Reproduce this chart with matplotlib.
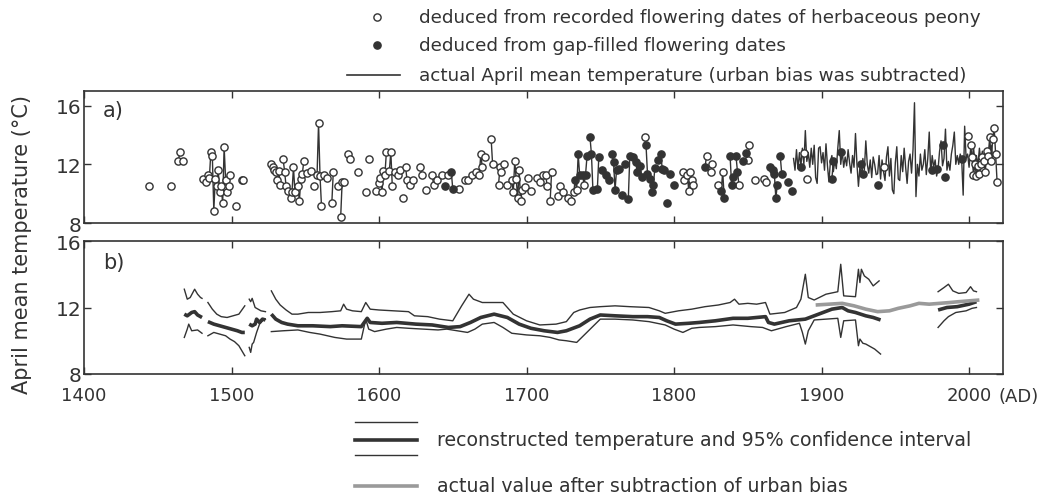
import numpy as np
import matplotlib.pyplot as plt
from matplotlib.lines import Line2D

# --- a) April temperature deduced from peony flowering dates ---------------
rec_years = [1444, 1459, 1464, 1465, 1467, 1481, 1483, 1484, 1485, 1486, 1487, 1488,
             1489, 1490, 1491, 1492, 1493, 1494, 1495, 1496, 1497, 1498, 1499, 1503,
             1507, 1508, 1527, 1528, 1529, 1530, 1531, 1532, 1533, 1535, 1536, 1537,
             1538, 1540, 1541, 1542, 1543, 1545, 1546, 1547, 1548, 1549, 1551, 1554,
             1556, 1558, 1559, 1560, 1561, 1563, 1565, 1568, 1569, 1572, 1574, 1575,
             1576, 1579, 1580, 1586, 1591, 1593, 1598, 1600, 1601, 1602, 1603, 1604,
             1605, 1607, 1608, 1609, 1611, 1613, 1614, 1616, 1618, 1619, 1621, 1623,
             1628, 1629, 1632, 1636, 1637, 1639, 1643, 1647, 1654, 1658, 1660, 1663,
             1666, 1668, 1669, 1670, 1672, 1676, 1677, 1681, 1682, 1683, 1685, 1687,
             1690, 1691, 1692, 1693, 1694, 1695, 1696, 1697, 1699, 1701, 1703, 1707,
             1709, 1711, 1713, 1714, 1716, 1717, 1721, 1723, 1725, 1728, 1730, 1732,
             1734, 1739, 1780, 1806, 1807, 1809, 1810, 1811, 1812, 1813, 1822, 1825,
             1826, 1830, 1833, 1844, 1850, 1851, 1855, 1861, 1862, 1888, 1890, 1942,
             1999, 2001, 2002, 2003, 2004, 2005, 2006, 2007, 2008, 2009, 2010, 2011,
             2012, 2013, 2014, 2015, 2016, 2017, 2018, 2019]
rec_temp = [10.5, 10.5, 12.25, 12.85, 12.25, 11.0, 10.8, 11.3, 11.1, 12.85, 12.55, 8.85,
            11.0, 10.5, 11.6, 10.1, 10.5, 9.35, 13.2, 10.95, 10.1, 10.5, 11.3, 9.15,
            10.95, 10.95, 12.05, 11.8, 11.6, 11.5, 10.95, 11.55, 10.6, 12.35, 11.5, 10.5,
            10.15, 9.7, 10.1, 11.8, 10.1, 10.5, 9.5, 11.0, 11.35, 12.2, 11.4, 11.55,
            10.5, 11.3, 14.8, 11.2, 9.15, 11.3, 11.1, 9.35, 11.5, 10.5, 8.4, 10.8,
            10.8, 12.7, 12.35, 11.5, 10.1, 12.35, 10.2, 10.75, 11.1, 10.1, 11.55, 11.3,
            12.85, 11.55, 12.85, 10.5, 11.5, 11.3, 11.6, 9.7, 11.8, 10.95, 10.6, 10.95,
            11.8, 11.3, 10.25, 11.3, 10.6, 10.95, 11.3, 11.3, 10.3, 10.95, 10.95, 11.3,
            11.5, 11.3, 12.7, 11.8, 12.5, 13.75, 12.0, 10.6, 11.8, 11.5, 12.05, 10.6,
            10.95, 10.1, 12.2, 11.0, 9.7, 11.6, 9.5, 10.25, 10.45, 11.1, 10.2, 11.1,
            10.8, 11.3, 11.3, 10.5, 9.5, 11.5, 9.85, 10.5, 10.1, 9.7, 9.5, 10.1,
            10.25, 10.6, 13.85, 11.5, 10.95, 11.25, 10.2, 11.5, 10.95, 10.6, 12.55, 11.5,
            12.05, 10.6, 11.5, 10.6, 12.3, 13.3, 10.95, 11.0, 10.8, 12.8, 11.0, 11.85,
            13.9, 13.3, 12.5, 11.3, 12.0, 11.2, 11.9, 11.35, 12.0, 12.5, 12.25, 11.5,
            12.9, 12.6, 13.85, 12.25, 13.7, 14.5, 12.7, 10.8]

gap_years = [1645, 1649, 1650, 1733, 1735, 1736, 1738, 1740, 1741, 1743, 1744, 1745,
             1748, 1749, 1751, 1754, 1756, 1758, 1759, 1760, 1761, 1763, 1765, 1767,
             1769, 1770, 1772, 1774, 1775, 1777, 1778, 1781, 1782, 1784, 1785, 1786,
             1787, 1789, 1791, 1792, 1793, 1795, 1797, 1800, 1821, 1832, 1834, 1838,
             1839, 1840, 1842, 1843, 1847, 1849, 1865, 1867, 1868, 1869, 1870, 1872,
             1873, 1877, 1880, 1886, 1907, 1908, 1913, 1927, 1928, 1938, 1975, 1978,
             1982, 1984, 1995]
gap_temp = [10.5, 11.5, 10.3, 10.95, 12.7, 11.3, 11.3, 11.3, 12.55, 13.85, 12.7, 10.25,
            10.3, 12.5, 11.6, 11.25, 10.9, 12.7, 12.15, 10.25, 11.6, 11.7, 9.9, 12.0,
            9.65, 12.55, 12.5, 12.15, 11.5, 11.9, 11.15, 13.3, 11.35, 11.0, 10.1, 10.6,
            11.75, 12.3, 12.7, 11.7, 11.6, 9.35, 11.35, 10.6, 11.8, 10.2, 9.7, 12.55,
            10.6, 11.15, 12.55, 11.5, 12.25, 12.8, 11.8, 11.6, 11.35, 9.7, 10.6, 12.55,
            11.35, 10.8, 10.2, 11.8, 11.0, 12.25, 12.85, 12.05, 11.35, 10.6, 11.6, 11.7,
            13.3, 11.15, 12.35]

obs_start = 1881
obs_temp = [12.4, 11.6, 13.0, 11.7, 12.8, 11.9, 13.1, 12.0, 14.3, 12.2,
            12.8, 11.8, 13.1, 12.0, 13.3, 11.1, 10.7, 13.1, 13.2, 12.1,
            12.8, 11.6, 13.4, 11.9, 10.8, 12.2, 12.6, 11.5, 12.3, 11.7,
            13.1, 14.3, 12.0, 12.9, 11.8, 12.5, 11.9, 13.0, 12.1, 11.4,
            12.6, 11.8, 14.1, 12.0, 10.5, 11.8, 11.2, 12.4, 11.6, 13.6,
            12.0, 11.4, 12.3, 11.1, 12.5, 12.0, 11.3, 11.35, 12.6, 11.0,
            12.3, 11.5, 10.9, 12.5, 13.2, 11.2, 12.4, 10.25, 10.0, 12.1,
            13.2, 11.0, 10.9, 12.6, 11.5, 13.1, 11.8, 10.7, 12.2, 12.7,
            11.4, 13.0, 16.2, 9.8, 12.0, 11.2, 12.7, 11.6, 12.0, 13.0,
            11.3, 12.4, 14.2, 11.4, 12.6, 11.8, 12.3, 11.2, 11.7, 12.9,
            13.6, 11.9, 12.4, 14.4, 11.6, 12.2, 11.6, 12.7, 13.3, 14.2,
            12.0, 12.6, 12.0, 12.7, 12.3, 9.9, 14.6, 12.4, 12.7, 11.8,
            13.0, 12.3, 13.2, 12.0, 12.6, 11.9, 13.1, 12.2, 12.9, 12.4,
            12.5, 12.9, 12.2, 12.6, 13.3, 12.4]

# --- b) reconstruction with 95% interval (nan = break between pieces) -------
nan = np.nan
mid_years = [1468, 1470, 1473, 1475, 1477, 1480, 1482,
             1484, 1488, 1492, 1496, 1500, 1504, 1507, 1509, 1510,
             1512, 1514, 1516, 1517, 1519, 1521, 1523, 1525,
             1527, 1530, 1534, 1538, 1545, 1555, 1567, 1575, 1588, 1590, 1592, 1594,
             1602, 1612, 1625, 1636, 1647, 1655, 1662, 1669, 1678, 1687, 1695, 1703,
             1712, 1721, 1727, 1736, 1743, 1750, 1760, 1772, 1782, 1790, 1795, 1801,
             1810, 1817, 1828, 1840, 1850, 1862, 1864, 1868, 1878, 1889, 1898, 1907,
             1914, 1918, 1923, 1930, 1935, 1940, 1960,
             1979, 1985, 1992, 2000, 2005]
mid_temp = [11.6, 11.5, 11.7, 11.75, 11.55, 11.4, nan,
            11.15, 11.0, 10.9, 10.8, 10.7, 10.6, 10.5, 10.5, nan,
            11.0, 10.9, 11.0, 11.3, 11.1, 11.3, 11.25, nan,
            11.6, 11.3, 11.1, 11.0, 10.9, 10.9, 10.85, 10.9, 10.85, 11.1, 11.35, 11.1,
            11.05, 11.1, 11.0, 10.95, 10.8, 10.85, 11.1, 11.4, 11.6, 11.4, 11.0, 10.75,
            10.6, 10.5, 10.6, 10.9, 11.3, 11.55, 11.5, 11.45, 11.45, 11.4, 11.2, 11.0,
            11.05, 11.1, 11.2, 11.35, 11.35, 11.45, 11.1, 11.0, 11.2, 11.3, 11.6, 11.9,
            12.0, 11.8, 11.7, 11.5, 11.4, 11.25, nan,
            11.85, 12.0, 12.05, 12.2, 12.35]

hi_years = [1468, 1470, 1472, 1475, 1477, 1479, 1480, 1482,
            1484, 1487, 1490, 1493, 1497, 1501, 1505, 1507, 1509, 1510,
            1512, 1513, 1514, 1516, 1518, 1520, 1523, 1525,
            1527, 1530, 1533, 1537, 1541, 1545, 1552, 1560, 1568, 1574, 1576, 1578,
            1582, 1588, 1591, 1594, 1600, 1610, 1620, 1624, 1633, 1641, 1650, 1656,
            1661, 1664, 1670, 1678, 1684, 1691, 1700, 1709, 1720, 1727, 1732, 1736,
            1743, 1750, 1760, 1770, 1783, 1790, 1794, 1803, 1812, 1821, 1830, 1838,
            1841, 1844, 1850, 1856, 1862, 1865, 1875, 1883, 1886, 1889, 1891, 1895,
            1903, 1911, 1913, 1915, 1923, 1925, 1926, 1927, 1929, 1932, 1935, 1939, 1960,
            1979, 1983, 1986, 1989, 1993, 1998, 2001, 2003, 2005]
hi_temp = [13.1, 12.5, 12.6, 13.1, 12.8, 12.6, 12.55, nan,
           12.3, 11.9, 11.6, 11.45, 11.4, 11.5, 11.6, 11.85, 12.1, nan,
           12.5, 12.35, 12.55, 12.0, 11.9, 11.8, 11.75, nan,
           13.0, 12.5, 12.15, 11.85, 11.6, 11.6, 11.7, 11.7, 11.75, 11.8, 12.2, 11.9,
           11.8, 11.75, 12.3, 11.9, 11.85, 11.8, 11.75, 11.5, 11.45, 11.3, 11.2, 12.1,
           12.8, 12.5, 12.3, 12.3, 12.3, 11.6, 11.2, 10.95, 11.0, 11.15, 11.7, 11.85,
           12.0, 12.05, 12.1, 12.05, 12.0, 11.8, 11.65, 11.8, 11.9, 12.05, 12.15, 12.3,
           12.5, 12.2, 12.25, 12.2, 12.3, 11.6, 11.7, 12.0, 12.5, 14.0, 12.6, 12.45,
           12.8, 12.95, 14.6, 12.7, 12.65, 14.3, 13.5, 14.3, 13.9, 13.7, 13.3, 13.6, nan,
           12.95, 13.2, 13.4, 13.0, 12.85, 12.9, 13.25, 13.0, 12.95]

lo_years = [1468, 1470, 1471, 1473, 1477, 1480, 1482,
            1484, 1488, 1492, 1496, 1499, 1502, 1505, 1507, 1509, 1510,
            1512, 1513, 1514, 1515, 1517, 1519, 1521, 1523, 1525,
            1527, 1535, 1545, 1553, 1560, 1570, 1578, 1588, 1591, 1593, 1597, 1605,
            1612, 1620, 1630, 1640, 1646, 1653, 1660, 1665, 1670, 1678, 1684, 1690,
            1700, 1709, 1716, 1722, 1727, 1734, 1742, 1750, 1760, 1772, 1783, 1794,
            1800, 1806, 1812, 1817, 1828, 1840, 1852, 1860, 1866, 1876, 1885, 1887,
            1889, 1891, 1895, 1903, 1911, 1913, 1915, 1923, 1925, 1926, 1928, 1930,
            1932, 1936, 1940, 1960,
            1979, 1983, 1986, 1991, 1998, 2002, 2005]
lo_temp = [10.2, 10.7, 11.0, 10.6, 10.65, 10.45, nan,
           10.3, 10.5, 10.4, 10.3, 10.1, 9.95, 9.7, 9.4, 9.1, nan,
           9.6, 9.3, 9.8, 9.9, 10.5, 11.0, 11.2, 11.3, nan,
           10.55, 10.6, 10.65, 10.5, 10.4, 10.2, 10.1, 10.1, 11.3, 10.7, 10.55, 10.7,
           10.8, 10.75, 10.7, 10.65, 10.7, 10.6, 10.5, 10.7, 11.0, 11.1, 10.8, 10.45,
           10.35, 10.3, 10.2, 10.05, 10.0, 9.9, 10.6, 11.3, 11.3, 11.25, 11.15, 10.95,
           10.7, 10.5, 10.75, 10.8, 10.85, 10.95, 10.85, 10.8, 10.6, 10.85, 11.05, 10.5,
           9.8, 10.6, 11.25, 11.3, 11.35, 10.2, 11.2, 11.25, 9.7, 10.1, 9.85, 9.8,
           9.7, 9.5, 9.2, nan,
           10.8, 11.2, 11.45, 11.7, 11.8, 11.95, 12.0]

act_years = [1896, 1905, 1914, 1922, 1930, 1938, 1946, 1952, 1960, 1966, 1973, 1980,
             1987, 1993, 2000, 2007]
act_temp = [12.15, 12.2, 12.25, 12.1, 11.9, 11.75, 11.8, 11.95, 12.1, 12.25, 12.2, 12.25,
            12.3, 12.35, 12.4, 12.45]

# ---------------------------------------------------------------------------
W, H = 1061, 502
DARK = '#333333'
GREY = '#9a9a9a'
plt.rcParams['font.family'] = 'DejaVu Sans'
plt.rcParams['text.color'] = DARK

fig = plt.figure(figsize=(W / 100, H / 100), dpi=100)


def fx(x):
    return x / W


def fy(y):
    return 1 - y / H


left, right = 84, 1003
ax_a = fig.add_axes([fx(left), fy(224), fx(right) - fx(left), fy(92) - fy(224)])
ax_b = fig.add_axes([fx(left), fy(375), fx(right) - fx(left), fy(242) - fy(375)])

for ax in (ax_a, ax_b):
    ax.set_xlim(1400, 2023)
    ax.set_xticks(range(1400, 2001, 100))
    ax.tick_params(direction='in', top=True, right=True, length=5, width=1,
                   color=DARK, labelcolor=DARK)
    ax.tick_params(axis='y', labelsize=14.5, pad=2)
    ax.tick_params(axis='x', labelsize=13, pad=9)
    for s in ax.spines.values():
        s.set_color(DARK)
        s.set_linewidth(1.2)

ax_a.set_ylim(8, 17)
ax_a.set_yticks([8, 12, 16])
ax_a.tick_params(labelbottom=False)

ax_b.set_ylim(8, 16)
ax_b.set_yticks([8, 12, 16])
ax_b.text(2020, 7.2, '(AD)', ha='left', va='top', fontsize=13, color=DARK,
          clip_on=False)

# panel a: thin line through runs of consecutive years
py = np.array(rec_years + gap_years)
pt = np.array(rec_temp + gap_temp)
order = np.argsort(py)
py, pt = py[order], pt[order]
breaks = np.where(np.diff(py) > 1)[0] + 1
for yy, tt in zip(np.split(py, breaks), np.split(pt, breaks)):
    if len(yy) > 1:
        ax_a.plot(yy, tt, color=DARK, lw=1.0, zorder=2)

obs_years = np.arange(obs_start, obs_start + len(obs_temp))
ax_a.plot(obs_years, obs_temp, color=DARK, lw=1.0, zorder=2)

ax_a.plot(rec_years, rec_temp, 'o', ms=5.2, mfc='white', mec=DARK, mew=1.0,
          zorder=3)
ax_a.plot(gap_years, gap_temp, 'o', ms=5.2, mfc=DARK, mec=DARK, mew=1.0,
          zorder=4)
ax_a.text(1413, 15.7, 'a)', fontsize=15, color=DARK, va='center')

# panel b
ax_b.plot(hi_years, hi_temp, color=DARK, lw=1.0)
ax_b.plot(lo_years, lo_temp, color=DARK, lw=1.0)
ax_b.plot(mid_years, mid_temp, color=DARK, lw=2.6, solid_capstyle='butt')
ax_b.plot(act_years, act_temp, color=GREY, lw=2.6, solid_capstyle='butt')
ax_b.text(1413, 14.75, 'b)', fontsize=15, color=DARK, va='center')

fig.text(fx(22), fy(244), 'April mean temperature (°C)', rotation=90,
         ha='center', va='center', fontsize=15, color=DARK)

# legend above the panels
fig.add_artist(Line2D([fx(377)], [fy(18)], marker='o', ms=5.2, mfc='white',
                      mec=DARK, mew=1.0, transform=fig.transFigure))
fig.add_artist(Line2D([fx(377)], [fy(46)], marker='o', ms=5.2, mfc=DARK,
                      mec=DARK, mew=1.0, transform=fig.transFigure))
fig.add_artist(Line2D([fx(347), fx(400)], [fy(76), fy(76)], color=DARK, lw=1.2,
                      transform=fig.transFigure))
top_labels = ['deduced from recorded flowering dates of herbaceous peony',
              'deduced from gap-filled flowering dates',
              'actual April mean temperature (urban bias was subtracted)']
for lab, yy in zip(top_labels, [18, 46, 76]):
    fig.text(fx(419), fy(yy), lab, ha='left', va='center', fontsize=13.2, color=DARK)

# legend below the panels
for yy, lw in [(423, 1.0), (441, 2.6), (456, 1.0)]:
    fig.add_artist(Line2D([fx(355), fx(417)], [fy(yy), fy(yy)], color=DARK, lw=lw,
                          transform=fig.transFigure))
fig.add_artist(Line2D([fx(355), fx(417)], [fy(487), fy(487)], color=GREY, lw=2.6,
                      transform=fig.transFigure))
fig.text(fx(437), fy(441), 'reconstructed temperature and 95% confidence interval',
         ha='left', va='center', fontsize=13.6, color=DARK)
fig.text(fx(437), fy(487), 'actual value after subtraction of urban bias',
         ha='left', va='center', fontsize=13.6, color=DARK)

fig.savefig('out.png', dpi=100)
